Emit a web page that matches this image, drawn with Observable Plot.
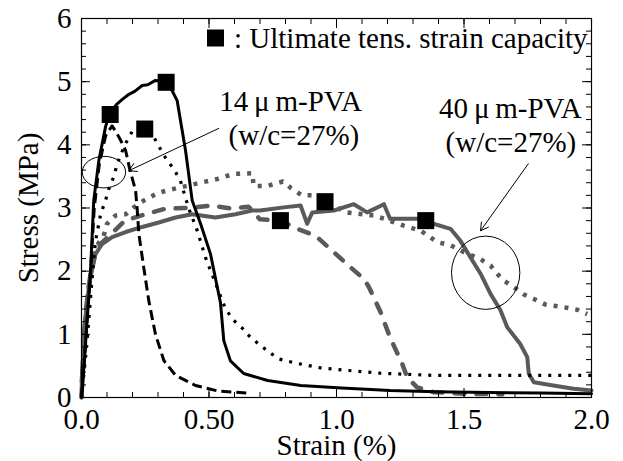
<!DOCTYPE html>
<html><head><meta charset="utf-8">
<script src="https://cdn.jsdelivr.net/npm/d3@7"></script>
<script src="https://cdn.jsdelivr.net/npm/@observablehq/plot@0.6"></script>
<style>
body{margin:0;background:#fff}
#chart svg text, #chart svg tspan { font-family: "Liberation Serif", "Times New Roman", serif !important; font-weight: normal !important; }
</style>
</head><body><div id="chart"></div>
<script>
// [strain %, stress MPa]
const blackSolid = [[0,0],[0.01,0.5],[0.02,1.1],[0.035,1.96],[0.048,3.12],[0.068,3.75],[0.094,4.28],[0.11,4.5],[0.14,4.65],[0.16,4.72],[0.186,4.8],[0.21,4.85],[0.238,4.94],[0.26,4.95],[0.29,5.02],[0.33,5.0],[0.355,4.86],[0.375,4.7],[0.408,3.91],[0.434,3.12],[0.467,2.75],[0.506,2.27],[0.545,1.5],[0.558,0.9],[0.584,0.58],[0.636,0.38],[0.73,0.27],[0.86,0.19],[1.02,0.15],[1.21,0.11],[1.39,0.09],[1.6,0.08],[1.8,0.07],[2.0,0.06]];
const blackDashed = [[0,0],[0.01,0.5],[0.02,1.1],[0.035,1.96],[0.05,3.0],[0.07,3.7],[0.095,4.15],[0.12,4.3],[0.133,4.22],[0.15,4.1],[0.173,3.91],[0.19,3.6],[0.212,3.28],[0.218,3.0],[0.225,2.59],[0.244,2.06],[0.264,1.53],[0.29,1.0],[0.323,0.585],[0.369,0.35],[0.447,0.19],[0.538,0.1],[0.65,0.07]];
const blackDotted = [[0,0],[0.02,0.8],[0.04,1.8],[0.055,2.48],[0.075,2.9],[0.094,3.12],[0.107,3.3],[0.127,3.5],[0.14,3.7],[0.17,4.0],[0.2,4.22],[0.25,4.25],[0.284,4.12],[0.31,3.93],[0.336,3.75],[0.362,3.62],[0.388,3.43],[0.42,3.0],[0.454,2.64],[0.486,2.22],[0.506,2.01],[0.565,1.4],[0.597,1.22],[0.63,1.1],[0.663,0.95],[0.735,0.72],[0.774,0.61],[0.833,0.55],[0.937,0.47],[1.04,0.43],[1.17,0.385],[1.38,0.35],[1.6,0.35],[1.8,0.35],[2.0,0.35]];
const graySolid = [[0,0.25],[0.005,0.5],[0.009,1.0],[0.022,1.53],[0.035,1.9],[0.055,2.27],[0.081,2.43],[0.12,2.54],[0.173,2.62],[0.238,2.7],[0.303,2.77],[0.369,2.85],[0.434,2.9],[0.525,2.85],[0.604,2.9],[0.669,2.96],[0.70,2.96],[0.793,3.01],[0.859,3.04],[0.885,2.75],[0.905,2.93],[0.99,2.96],[1.068,3.06],[1.12,2.93],[1.186,3.06],[1.21,2.83],[1.277,2.83],[1.34,2.83],[1.38,2.75],[1.447,2.67],[1.486,2.48],[1.525,2.22],[1.565,1.96],[1.604,1.64],[1.643,1.38],[1.67,1.11],[1.72,0.85],[1.748,0.64],[1.754,0.375],[1.774,0.24],[1.85,0.19],[1.93,0.14],[2.0,0.11]];
const grayDashed = [[0,0],[0.005,0.5],[0.01,1.0],[0.022,1.55],[0.035,1.95],[0.055,2.3],[0.08,2.45],[0.12,2.6],[0.17,2.8],[0.25,2.9],[0.33,2.99],[0.42,3.0],[0.51,3.04],[0.59,2.99],[0.655,3.02],[0.70,2.82],[0.78,2.8],[0.846,2.67],[0.918,2.56],[0.976,2.35],[1.055,2.06],[1.107,1.88],[1.127,1.75],[1.173,1.35],[1.21,0.95],[1.258,0.53],[1.277,0.32],[1.316,0.16],[1.38,0.085],[1.5,0.06],[1.65,0.05]];
const grayDotted = [[0,0],[0.005,0.5],[0.01,1.0],[0.022,1.55],[0.04,2.1],[0.06,2.4],[0.087,2.56],[0.1,2.75],[0.133,2.88],[0.173,2.9],[0.205,3.01],[0.245,3.12],[0.3,3.24],[0.36,3.3],[0.466,3.4],[0.533,3.46],[0.597,3.54],[0.67,3.55],[0.675,3.35],[0.73,3.35],[0.79,3.42],[0.82,3.32],[0.865,3.2],[0.905,3.2],[0.955,3.1],[1.04,2.93],[1.147,2.88],[1.186,2.83],[1.264,2.72],[1.33,2.64],[1.395,2.46],[1.447,2.41],[1.5,2.3],[1.565,2.19],[1.604,2.09],[1.63,1.96],[1.656,1.85],[1.695,1.75],[1.735,1.63],[1.774,1.56],[1.82,1.47],[1.89,1.43],[1.944,1.39],[1.983,1.32]];
const ultimatePoints = [[0.1125,4.48],[0.332,4.99],[0.248,4.25],[0.78,2.8],[0.955,3.1],[1.35,2.8]];

const xTickValues = [0, 0.5, 1, 1.5, 2];
const xTickLabels = ["0.0", "0.50", "1.0", "1.5", "2.0"];
const yTickValues = [0, 1, 2, 3, 4, 5, 6];
const yTickLabels = ["0", "1", "2", "3", "4", "5", "6"];
const xMinorTicks = d3.ticks(0, 2, 20);
const yMinorTicks = d3.ticks(0, 6, 30);

const legendText = ": Ultimate tens. strain capacity";
const notes = [
  {x: 0.82, y: 4.54, text: "14\u2009μ\u2009m-PVA"},
  {x: 0.833, y: 3.99, text: "(w/c=27%)"},
  {x: 1.682, y: 4.43, text: "40\u2009μ\u2009m-PVA"},
  {x: 1.684, y: 3.89, text: "(w/c=27%)"}
];
const arrows = [
  {x1: 0.538, y1: 4.26, x2: 0.1855, y2: 3.59},
  {x1: 1.752, y1: 3.70, x2: 1.565, y2: 2.64}
];
const rings = [
  {x: 0.09, y: 3.56, rx: 0.085, ry: 0.25},
  {x: 1.587, y: 1.967, rx: 0.134, ry: 0.58}
];

const gray = "#5a5a5a";
const font = "Liberation Serif";
const fs = 29;
const X = d => d[0], Y = d => d[1];
const ax = {fontFamily: font, fontSize: fs, fontWeight: "normal"};

const plot = Plot.plot({
  width: 623, height: 461,
  marginLeft: 81, marginRight: 32, marginTop: 18, marginBottom: 64,
  x: {domain: [0, 2]},
  y: {domain: [0, 6]},
  style: {fontFamily: font, fontSize: fs + "px", background: "white", color: "black", overflow: "visible"},
  marks: [
    Plot.line(graySolid, {x: X, y: Y, stroke: gray, strokeWidth: 4}),
    Plot.line(grayDashed, {x: X, y: Y, stroke: gray, strokeWidth: 4.5, strokeDasharray: "10,12", strokeLinecap: "round"}),
    Plot.line(grayDotted, {x: X, y: Y, stroke: gray, strokeWidth: 4.5, strokeDasharray: "4,7", strokeLinecap: "butt"}),
    Plot.line(blackSolid, {x: X, y: Y, stroke: "black", strokeWidth: 3}),
    Plot.line(blackDashed, {x: X, y: Y, stroke: "black", strokeWidth: 3, strokeDasharray: "10,5", strokeLinecap: "butt"}),
    Plot.line(blackDotted, {x: X, y: Y, stroke: "black", strokeWidth: 3.2, strokeDasharray: "3,7", strokeLinecap: "butt"}),
    Plot.dot(ultimatePoints, {x: X, y: Y, symbol: "square", r: 9.6, fill: "black", stroke: "none"}),
    Plot.arrow(arrows, {x1: "x1", y1: "y1", x2: "x2", y2: "y2", stroke: "black", strokeWidth: 1, headLength: 13}),
    Plot.text(notes, {x: "x", y: "y", text: "text", ...ax, lineAnchor: "bottom", fill: "black"}),
    Plot.dot([0], {frameAnchor: "top-left", dx: 134, dy: 19.5, symbol: "square", r: 9.6, fill: "black", stroke: "none"}),
    Plot.text([legendText], {frameAnchor: "top-right", dx: -4, dy: 20, text: d => d, textAnchor: "end", lineAnchor: "middle", ...ax, fill: "black"}),
    Plot.frame({stroke: "black", strokeWidth: 1.2}),
    // inward ticks on all four sides
    Plot.axisX({anchor: "bottom", ticks: xMinorTicks, tickSize: -5, tickFormat: () => "", label: null}),
    Plot.axisX({anchor: "top", ticks: xMinorTicks, tickSize: -5, tickFormat: () => "", label: null}),
    Plot.axisY({anchor: "left", ticks: yMinorTicks, tickSize: -5, tickFormat: () => "", label: null}),
    Plot.axisY({anchor: "right", ticks: yMinorTicks, tickSize: -6, tickFormat: () => "", label: null}),
    Plot.axisX({anchor: "bottom", ticks: xTickValues, tickSize: -9, tickFormat: () => "", label: null}),
    Plot.axisX({anchor: "top", ticks: xTickValues, tickSize: -9, tickFormat: () => "", label: null}),
    Plot.axisY({anchor: "left", ticks: yTickValues, tickSize: -9, tickFormat: () => "", label: null}),
    Plot.axisY({anchor: "right", ticks: yTickValues, tickSize: -10, tickFormat: () => "", label: null}),
    // labels
    Plot.axisX({anchor: "bottom", ticks: xTickValues, tickSize: 0, tickPadding: 11, ...ax,
      tickFormat: d => xTickLabels[xTickValues.indexOf(d)],
      label: "Strain (%)", labelAnchor: "center", labelOffset: 57, labelArrow: "none"}),
    Plot.axisY({anchor: "left", ticks: yTickValues, tickSize: 0, tickPadding: 10, ...ax,
      tickFormat: d => yTickLabels[yTickValues.indexOf(d)],
      label: "Stress (MPa)", labelAnchor: "center", labelOffset: 64, labelArrow: "none"})
  ]
});

// ellipse annotations, positioned through Plot's scales
const sx = plot.scale("x"), sy = plot.scale("y");
const svg = d3.select(plot.tagName === "svg" ? plot : plot.querySelector("svg"));
for (const r of rings) {
  const cx = sx.apply(r.x), cy = sy.apply(r.y);
  svg.append("ellipse")
    .attr("cx", cx).attr("cy", cy)
    .attr("rx", Math.abs(sx.apply(r.x + r.rx) - cx))
    .attr("ry", Math.abs(sy.apply(r.y + r.ry) - cy))
    .attr("fill", "none").attr("stroke", "black").attr("stroke-width", 1);
}
document.getElementById("chart").appendChild(plot);
</script>
</body></html>
